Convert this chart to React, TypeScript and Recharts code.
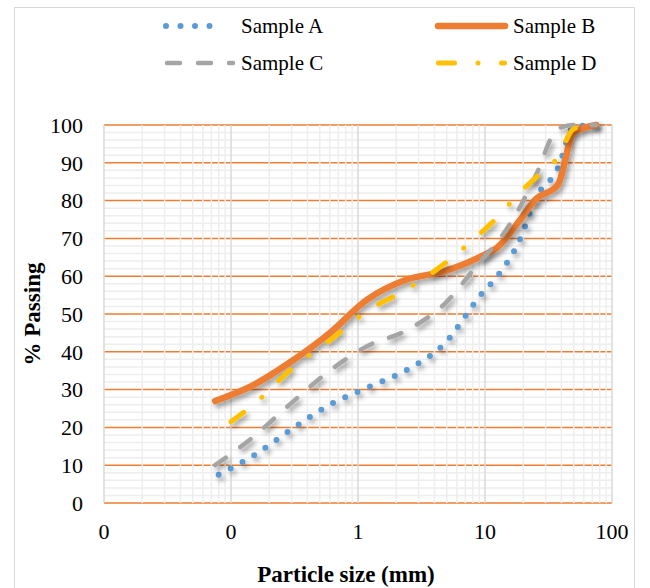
import React from "react";
import { LineChart, Line, XAxis, YAxis, ReferenceLine } from "recharts";

document.body.style.margin = "0";

// sieve sizes (mm) and % passing
const sizesA = [0.08, 0.15, 0.3, 0.6, 1.18, 2.36, 4.75, 9.5, 12.5, 19, 25, 37.5, 50, 75];
const passingA = [7.5, 12.5, 19.5, 26, 30.5, 35, 42, 55.5, 60, 70, 80.5, 88.5, 99.5, 100];

const sizesB = [0.075, 0.15, 0.3, 0.6, 1.18, 2.36, 4.75, 9.5, 12.5, 19, 25, 37.5, 50, 75];
const passingB = [27, 31.2, 37.5, 45, 53.8, 59, 61.3, 65.4, 67.6, 75, 80.3, 84.2, 98, 100];

const sizesC = [0.075, 0.15, 0.3, 0.6, 1.18, 2.36, 4.75, 9.5, 12.5, 19, 25, 37.5, 50, 75];
const passingC = [10, 17.5, 26.5, 35, 41.5, 45.5, 52.5, 64.5, 69, 78.5, 86.5, 99, 100, 100];

const sizesD = [0.1, 0.15, 0.3, 0.6, 1.18, 2.36, 4.75, 9.5, 12.5, 19, 25, 37.5, 50, 75];
const passingD = [21.5, 26, 35.5, 43, 50.8, 56.3, 63.2, 71.8, 75.5, 82.3, 86, 91.5, 99, 100];

const xTicks = [0.01, 0.1, 1, 10, 100];
const yTicks = [0, 10, 20, 30, 40, 50, 60, 70, 80, 90, 100];
const minorMultipliers = [2, 3, 4, 5, 6, 7, 8, 9];

const toRows = (xs: number[], ys: number[]) => xs.map((x, i) => ({ x, y: ys[i] }));

const dataA = toRows(sizesA, passingA);
const dataB = toRows(sizesB, passingB);
const dataC = toRows(sizesC, passingC);
const dataD = toRows(sizesD, passingD);

const BLUE = "#5B9BD5";
const ORANGE = "#ED7D31";
const GRAY = "#A5A5A5";
const YELLOW = "#FFC000";

const DOTS = "0 13.5";
const DASH = "13 18";
const DASH_DOT = "16 23.5 0 23.5";

const FONT = "'Liberation Serif', 'Times New Roman', serif";

const xMinor = xTicks.slice(0, -1).flatMap((d) => minorMultipliers.map((m) => d * m));
const yMinor: number[] = [];
for (let v = 2; v < 100; v += 2) if (v % 10 !== 0) yMinor.push(v);

// Excel shows 0.01 and 0.1 as "0" (number format "0")
const fmtX = (v: number) => (v < 1 ? "0" : String(v));

const XTitle = (props: any) => {
  const vb = props.viewBox;
  return (
    <text
      x={vb.x + vb.width / 2 - 12}
      y={vb.y + 79}
      textAnchor="middle"
      fontFamily={FONT}
      fontWeight="bold"
      fontSize={23}
      fill="#000"
    >
      Particle size (mm)
    </text>
  );
};

const YTitle = (props: any) => {
  const vb = props.viewBox;
  const cx = 40;
  const cy = vb.y + vb.height / 2;
  return (
    <text
      x={cx}
      y={cy}
      transform={`rotate(-90, ${cx}, ${cy})`}
      textAnchor="middle"
      fontFamily={FONT}
      fontWeight="bold"
      fontSize={23}
      fill="#000"
    >
      % Passing
    </text>
  );
};

function LegendOverlay() {
  const txt = { fontFamily: FONT, fontSize: 21, fill: "#000" };
  return (
    <svg width={650} height={90} style={{ position: "absolute", left: 0, top: 0 }}>
      <line x1={166} y1={26} x2={224} y2={26} stroke={BLUE} strokeWidth={6} strokeDasharray="0 14.5" strokeLinecap="round" />
      <text x={241} y={33} {...txt}>Sample A</text>
      <line x1={438} y1={26} x2={505} y2={26} stroke={ORANGE} strokeWidth={6.5} strokeLinecap="round" />
      <text x={513} y={33} {...txt}>Sample B</text>
      <line x1={167} y1={63} x2={233} y2={63} stroke={GRAY} strokeWidth={4.5} strokeDasharray={DASH} strokeLinecap="round" />
      <text x={241} y={70} {...txt}>Sample C</text>
      <line x1={438.5} y1={63} x2={504.5} y2={63} stroke={YELLOW} strokeWidth={5} strokeDasharray={DASH_DOT} strokeLinecap="round" />
      <text x={513} y={70} {...txt}>Sample D</text>
    </svg>
  );
}

export default function App() {
  return (
    <div style={{ position: "relative", width: 650, height: 588, overflow: "hidden", background: "#fff" }}>
      <style>{`.recharts-line-curve { filter: url(#lineShadow); }`}</style>
      <svg width={0} height={0} style={{ position: "absolute" }}>
        <defs>
          <filter id="lineShadow" filterUnits="userSpaceOnUse" x={0} y={0} width={650} height={588}>
            <feDropShadow dx={2.5} dy={3.5} stdDeviation={2.5} floodColor="#000" floodOpacity={0.38} />
          </filter>
        </defs>
      </svg>
      <div
        style={{
          position: "absolute",
          left: 14,
          top: 7,
          width: 621,
          height: 600,
          border: "1px solid #d9d9d9",
          boxSizing: "border-box",
        }}
      />
      <div style={{ position: "absolute", left: 0, top: 0 }}>
        <LineChart width={650} height={588} margin={{ top: 125, right: 38, left: 0, bottom: 0 }}>
          <XAxis
            dataKey="x"
            type="number"
            scale="log"
            domain={[0.01, 100]}
            ticks={xTicks}
            tickFormatter={fmtX}
            allowDataOverflow
            axisLine={false}
            tickLine={false}
            tickSize={0}
            tickMargin={20}
            height={85}
            interval={0}
            tick={{ fontFamily: FONT, fontSize: 22, fill: "#000" }}
            label={{ content: XTitle }}
          />
          <YAxis
            type="number"
            domain={[0, 100]}
            ticks={yTicks}
            axisLine={false}
            tickLine={false}
            tickSize={0}
            tickMargin={21}
            width={104}
            interval={0}
            tick={{ fontFamily: FONT, fontSize: 22, fill: "#000" }}
            label={{ content: YTitle }}
          />

          {yMinor.map((v) => (
            <ReferenceLine key={"ym" + v} y={v} stroke="#eeeeee" strokeWidth={1.5} />
          ))}
          {yTicks.map((v) => (
            <ReferenceLine key={"y" + v} y={v} stroke={ORANGE} strokeWidth={1.5} />
          ))}
          {xMinor.map((v) => (
            <ReferenceLine key={"xm" + v} x={v} stroke="#eeeeee" strokeWidth={1.5} />
          ))}
          {xTicks.map((v) => (
            <ReferenceLine key={"x" + v} x={v} stroke="#d9d9d9" strokeWidth={1.5} />
          ))}

          <Line data={dataA} dataKey="y" name="Sample A" type="monotone" stroke={BLUE} strokeWidth={6}
            strokeDasharray={DOTS} strokeLinecap="round" dot={false} activeDot={false} isAnimationActive={false} />
          <Line data={dataB} dataKey="y" name="Sample B" type="monotone" stroke={ORANGE} strokeWidth={6.5}
            strokeLinecap="round" dot={false} activeDot={false} isAnimationActive={false} />
          <Line data={dataC} dataKey="y" name="Sample C" type="monotone" stroke={GRAY} strokeWidth={4.5}
            strokeDasharray={DASH} strokeLinecap="round" dot={false} activeDot={false} isAnimationActive={false} />
          <Line data={dataD} dataKey="y" name="Sample D" type="monotone" stroke={YELLOW} strokeWidth={5}
            strokeDasharray={DASH_DOT} strokeLinecap="round" dot={false} activeDot={false} isAnimationActive={false} />
        </LineChart>
      </div>
      <LegendOverlay />
    </div>
  );
}
